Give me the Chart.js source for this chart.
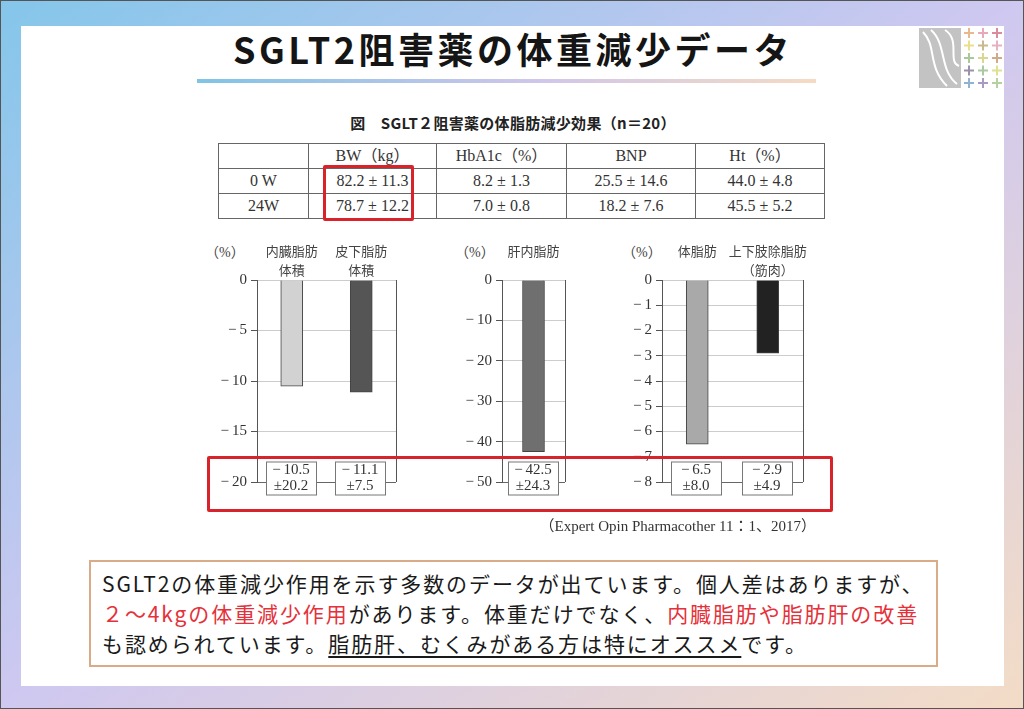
<!DOCTYPE html>
<html lang="ja">
<head>
<meta charset="utf-8">
<script src="https://cdn.jsdelivr.net/npm/chart.js@4.4.1/dist/chart.umd.min.js"></script>
<style>
  html, body { margin: 0; padding: 0; }
  body {
    width: 1024px; height: 709px; position: relative; overflow: hidden;
    background: linear-gradient(to bottom right, #84c6ea 0%, #cfc8f0 50%, #f3dcc6 100%);
    font-family: "Noto Sans CJK JP", sans-serif;
    box-sizing: border-box; border: 1px solid #555;
  }
  .panel { position: absolute; left: 20px; top: 25px; width: 983px; height: 660px; background: #fff; }
  .abs { position: absolute; }
  #title { left: 0; width: 1024px; top: 27px; text-align: center; font-size: 36px; font-weight: 700;
    letter-spacing: 3.5px; line-height: 40px; color: #151515; }
  #underline { left: 196px; top: 78px; width: 619px; height: 4px;
    background: linear-gradient(to right, #80c4e4, #cfc6ea 55%, #f5dbc3); }
  #caption { left: 0; width: 1024px; top: 112px; text-align: center; font-size: 15px; font-weight: 700;
    color: #222; line-height: 20px; letter-spacing: 0.3px; }
  table { position: absolute; left: 217px; top: 142px; border-collapse: collapse;
    font-family: "Liberation Serif", "Noto Sans CJK JP", serif; font-size: 16px; color: #333; }
  td { border: 1px solid #666; height: 24px; padding: 0; text-align: center; line-height: 24px; }
  .unit { font-family: "Liberation Serif", "Noto Sans CJK JP", serif; font-size: 14px; color: #444; }
  canvas { position: absolute; }
  .redbox { position: absolute; border: 3px solid #d8232a; box-sizing: border-box; border-radius: 2px; }
  #cite { right: 207px; top: 513px; font-family: "Liberation Serif", "Noto Sans CJK JP", serif;
    font-size: 15px; color: #333; }
  #note { left: 88px; top: 559px; width: 849px; height: 107px; box-sizing: border-box;
    border: 2px solid #d9ab86; background: #fff; padding: 6px 0 0 11px;
    font-size: 21px; line-height: 30px; letter-spacing: 1.9px; color: #1a1a1a; white-space: nowrap; }
  .red { color: #e5313a; }
  .ul { text-decoration: underline; text-underline-offset: 4px; }
</style>
</head>
<body>
<div class="panel"></div>
<div id="title" class="abs">SGLT2阻害薬の体重減少データ</div>
<div id="underline" class="abs"></div>

<svg class="abs" style="left:916px;top:25px" width="88" height="64" viewBox="0 0 88 64">
  <rect x="2" y="2" width="42" height="60" fill="#c3c3c3"/>
  <path d="M6 6 C 20 20, 10 40, 30 60" stroke="#fff" stroke-width="2" fill="none"/>
  <path d="M14 4 C 30 18, 22 44, 40 58" stroke="#fff" stroke-width="2" fill="none"/>
  <path d="M28 4 C 44 14, 30 36, 42 40" stroke="#fff" stroke-width="2" fill="none"/>
  <g id="plus" stroke-width="2"></g>
</svg>

<div id="caption" class="abs">図　SGLT２阻害薬の体脂肪減少効果（n＝20）</div>
<table id="tbl"></table>
<div class="redbox" style="left:322px;top:164px;width:91px;height:56px"></div>

<div class="abs unit" style="left:204px;top:240px">（%）</div>
<div class="abs unit" style="left:454px;top:240px">（%）</div>
<div class="abs unit" style="left:621px;top:240px">（%）</div>

<canvas id="c1" width="215" height="260" style="left:200px;top:236px"></canvas>
<canvas id="c2" width="140" height="260" style="left:445px;top:236px"></canvas>
<canvas id="c3" width="215" height="260" style="left:605px;top:236px"></canvas>

<div class="redbox" style="left:206px;top:455px;width:626px;height:56px"></div>
<div id="cite" class="abs">（Expert Opin Pharmacother 11：1、2017）</div>

<div id="note" class="abs">SGLT2の体重減少作用を示す多数のデータが出ています。個人差はありますが、<br><span class="red">２～4kgの体重減少作用</span>があります。体重だけでなく、<span class="red">内臓脂肪や脂肪肝の改善</span><br>も認められています。<span class="ul">脂肪肝、むくみがある方は特にオススメ</span>です。</div>

<script>
// table
const tableHeaders = ['', 'BW（kg）', 'HbA1c（%）', 'BNP', 'Ht（%）'];
const tableRowLabels = ['0 W', '24W'];
const bwValues = ['82.2 ± 11.3', '78.7 ± 12.2'];
const hba1cValues = ['8.2 ± 1.3', '7.0 ± 0.8'];
const bnpValues = ['25.5 ± 14.6', '18.2 ± 7.6'];
const htValues = ['44.0 ± 4.8', '45.5 ± 5.2'];
const colWidths = [89, 127, 129, 128, 128];

// chart 1: visceral / subcutaneous fat
const fatLabels = [['内臓脂肪', '体積'], ['皮下脂肪', '体積']];
const fatValues = [-10.5, -11.1];
const fatSd = ['±20.2', '±7.5'];
const fatColors = ['#d2d2d2', '#555555'];

// chart 2: liver fat
const liverLabels = [['肝内脂肪', '']];
const liverValues = [-42.5];
const liverSd = ['±24.3'];
const liverColors = ['#6f6f6f'];

// chart 3: body fat / lean mass
const bodyLabels = [['体脂肪', ''], ['上下肢除脂肪', '（筋肉）']];
const bodyValues = [-6.5, -2.9];
const bodySd = ['±8.0', '±4.9'];
const bodyColors = ['#a9a9a9', '#222222'];

// y axis ranges [min, step]
const yRanges = [[-20, 5], [-50, 10], [-8, 1]];

const tbl = document.getElementById('tbl');
const cols = [tableRowLabels, bwValues, hba1cValues, bnpValues, htValues];
let html = '<tr>' + tableHeaders.map((h, i) => `<td style="width:${colWidths[i]}px">${h}</td>`).join('') + '</tr>';
tableRowLabels.forEach((r, ri) => {
  html += '<tr>' + cols.map(c => `<td>${c[ri]}</td>`).join('') + '</tr>';
});
tbl.innerHTML = html;

// logo crosses
const plusColors = [
  ['#e9b88e', '#eaa9bb', '#da8c9c'],
  ['#e9df8c', '#c9b98c', '#e6b2c1'],
  ['#a9c99b', '#d8d892', '#d2aa8a'],
  ['#9a92aa', '#a9c9a2', '#e0e092'],
  ['#92b2d2', '#aa9ac2', '#b2d2a2']
];
const g = document.getElementById('plus');
plusColors.forEach((row, r) => row.forEach((col, c) => {
  const x = 52 + c * 14, y = 7 + r * 12.5;
  g.innerHTML += `<path d="M${x - 5} ${y}H${x + 5}M${x} ${y - 5}V${y + 5}" stroke="${col}"/>`;
}));

const fmt = v => v === 0 ? '0' : '\u2212\u2009' + Math.abs(v);

const valueBoxes = {
  id: 'valueBoxes',
  afterDatasetsDraw(chart, args, opts) {
    const ctx = chart.ctx;
    const xs = chart.scales.x, ys = chart.scales.y;
    chart.data.datasets[0].data.forEach((v, i) => {
      const cx = Math.round(xs.getPixelForValue(i)) - 1;
      const cy = ys.bottom - 4;
      const w = 50, h = 33;
      ctx.save();
      ctx.fillStyle = '#fff';
      ctx.fillRect(cx - w / 2, cy - h / 2, w, h);
      ctx.strokeStyle = '#777';
      ctx.lineWidth = 1;
      ctx.strokeRect(cx - w / 2 + 0.5, cy - h / 2 + 0.5, w, h);
      ctx.fillStyle = '#333';
      ctx.font = '15px "Liberation Serif"';
      ctx.textAlign = 'center';
      ctx.textBaseline = 'middle';
      ctx.fillText(fmt(v), cx, cy - 8);
      ctx.fillText(opts.sd[i], cx, cy + 8);
      ctx.restore();
    });
  }
};

function makeChart(id, labels, values, colors, sd, range, padRight) {
  const [min, step] = range;
  return new Chart(document.getElementById(id), {
    type: 'bar',
    data: {
      labels: labels,
      datasets: [{
        data: values,
        backgroundColor: colors,
        borderColor: '#444',
        borderWidth: 1,
        barThickness: 22
      }]
    },
    options: {
      responsive: false,
      animation: false,
      layout: { padding: { top: 0, right: padRight, bottom: 15, left: 0 } },
      scales: {
        x: {
          position: 'top',
          afterFit: s => { s.height = 43; },
          border: { display: false },
          grid: {
            drawTicks: false,
            color: c => (c.type !== 'tick' || c.index === 0) ? '#555' : 'rgba(0,0,0,0)'
          },
          ticks: {
            padding: 1,
            maxRotation: 0,
            minRotation: 0,
            autoSkip: false,
            color: '#444',
            font: { family: '"Noto Sans CJK JP"', size: 13, lineHeight: 1.45 }
          }
        },
        y: {
          min: min,
          max: 0,
          afterFit: s => { s.width = 56; },
          border: { display: true, color: '#555' },
          grid: {
            color: c => c.tick && c.tick.value === min ? '#666' : '#cccccc',
            tickColor: '#555',
            tickLength: 6
          },
          ticks: {
            stepSize: step,
            padding: 4,
            color: '#333',
            font: { family: '"Liberation Serif"', size: 15 },
            callback: v => fmt(v)
          }
        }
      },
      plugins: {
        legend: { display: false },
        tooltip: { enabled: false },
        valueBoxes: { sd: sd }
      }
    },
    plugins: [valueBoxes]
  });
}

makeChart('c1', fatLabels, fatValues, fatColors, fatSd, yRanges[0], 20);
makeChart('c2', liverLabels, liverValues, liverColors, liverSd, yRanges[1], 21);
makeChart('c3', bodyLabels, bodyValues, bodySd ? bodyColors : bodyColors, bodySd, yRanges[2], 18);
</script>
</body>
</html>
